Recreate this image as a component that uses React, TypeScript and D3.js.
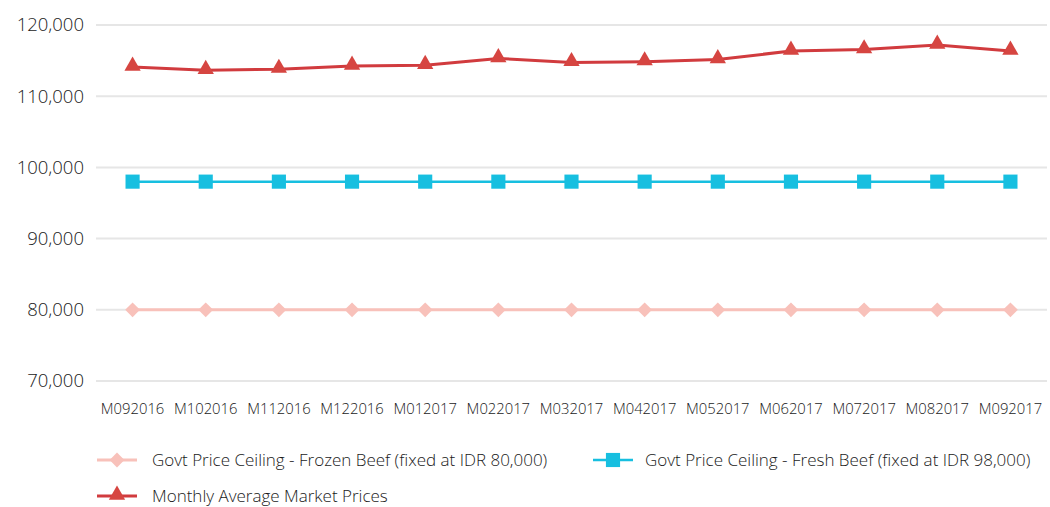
import React from "react";
import * as d3 from "d3";

const months = [
  "M092016", "M102016", "M112016", "M122016", "M012017", "M022017", "M032017",
  "M042017", "M052017", "M062017", "M072017", "M082017", "M092017",
];
const frozenCeiling = [80000, 80000, 80000, 80000, 80000, 80000, 80000, 80000, 80000, 80000, 80000, 80000, 80000];
const freshCeiling = [98000, 98000, 98000, 98000, 98000, 98000, 98000, 98000, 98000, 98000, 98000, 98000, 98000];
const marketPrices = [114100, 113650, 113800, 114250, 114350, 115300, 114750, 114850, 115150, 116350, 116550, 117200, 116350];
const yTicks = [70000, 80000, 90000, 100000, 110000, 120000];

const W = 1050;
const H = 507;
const FONT = "'Open Sans', Roboto, sans-serif";

export default function App() {
  const x = d3.scalePoint<string>().domain(months).range([96, 1047]).padding(0.5);
  const y = d3.scaleLinear().domain([70000, 120000]).range([381, 25]);
  const line = d3
    .line<number>()
    .x((_, i) => x(months[i]) as number)
    .y((d) => y(d));
  const fmt = d3.format(",");
  const diamond = d3.symbol(d3.symbolDiamond2, 140)();
  const square = d3.symbol(d3.symbolSquare, 200)();
  const triangle = d3.symbol(d3.symbolTriangle, 115)();

  return (
    <svg width={W} height={H} style={{ position: "absolute", left: 0, top: 0, fontFamily: FONT }}>
      {yTicks.map((t) => (
        <g key={t}>
          <line x1={96} x2={1047} y1={y(t)} y2={y(t)} stroke="#e6e6e6" strokeWidth={2} />
          <text x={84} y={y(t)} dy="0.35em" textAnchor="end" fontSize={18.5} fontWeight={300} fill="#1a1a1a">
            {fmt(t)}
          </text>
        </g>
      ))}
      {months.map((m) => (
        <text key={m} x={x(m)} y={414} textAnchor="middle" fontSize={14.8} fontWeight={300} fill="#1a1a1a">
          {m}
        </text>
      ))}

      <path d={line(frozenCeiling) ?? ""} fill="none" stroke="#f8c1ba" strokeWidth={3} />
      {frozenCeiling.map((v, i) => (
        <path key={i} d={diamond ?? ""} transform={`translate(${x(months[i])},${y(v)})`} fill="#f8c1ba" />
      ))}

      <path d={line(freshCeiling) ?? ""} fill="none" stroke="#17bfe0" strokeWidth={2.5} />
      {freshCeiling.map((v, i) => (
        <path key={i} d={square ?? ""} transform={`translate(${x(months[i])},${y(v)})`} fill="#17bfe0" />
      ))}

      <path d={line(marketPrices) ?? ""} fill="none" stroke="#d13b3e" strokeWidth={3} />
      {marketPrices.map((v, i) => (
        <path key={i} d={triangle ?? ""} transform={`translate(${x(months[i])},${y(v) - 1})`} fill="#d64541" />
      ))}

      {/* legend */}
      <g transform="translate(97,460)">
        <line x1={0} x2={40} y1={0} y2={0} stroke="#f8c1ba" strokeWidth={3} />
        <path d={diamond ?? ""} transform="translate(20,0)" fill="#f8c1ba" />
        <text x={55} y={0} dy="0.35em" fontSize={17} fontWeight={300} fill="#1a1a1a">
          Govt Price Ceiling - Frozen Beef (fixed at IDR 80,000)
        </text>
      </g>
      <g transform="translate(593,460)">
        <line x1={0} x2={40} y1={0} y2={0} stroke="#17bfe0" strokeWidth={2.5} />
        <path d={square ?? ""} transform="translate(20,0)" fill="#17bfe0" />
        <text x={52} y={0} dy="0.35em" fontSize={17} fontWeight={300} fill="#1a1a1a">
          Govt Price Ceiling - Fresh Beef (fixed at IDR 98,000)
        </text>
      </g>
      <g transform="translate(97,496)">
        <line x1={0} x2={40} y1={0} y2={0} stroke="#d13b3e" strokeWidth={3} />
        <path d={triangle ?? ""} transform="translate(20,-1)" fill="#d64541" />
        <text x={55} y={0} dy="0.35em" fontSize={17} fontWeight={300} fill="#1a1a1a">
          Monthly Average Market Prices
        </text>
      </g>
    </svg>
  );
}
